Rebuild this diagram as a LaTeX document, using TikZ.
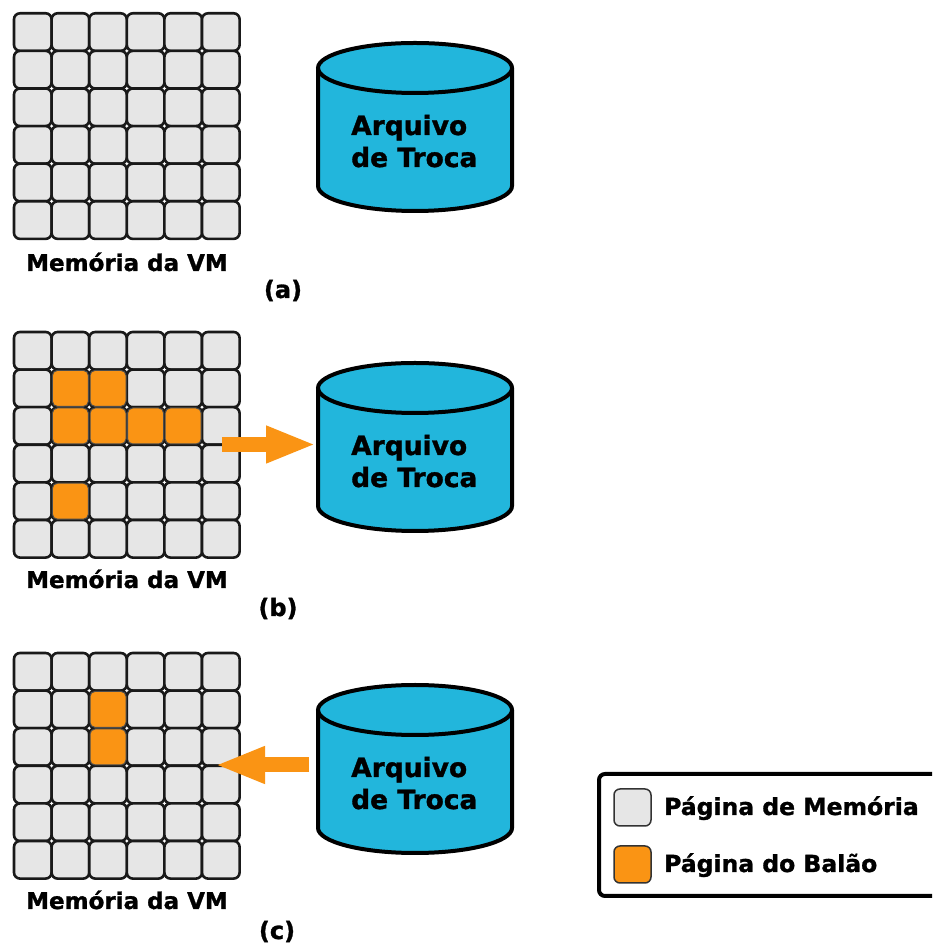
\documentclass[tikz,border=0pt]{standalone}
\usepackage{fontspec}
\setmainfont{DejaVu Sans}[BoldFeatures={FakeBold=1.2}]
\usetikzlibrary{arrows.meta}
\definecolor{cellgrey}{RGB}{230,230,230}
\definecolor{balloonorange}{RGB}{250,148,20}
\definecolor{diskcyan}{RGB}{34,182,220}
\tikzset{
 cellg/.style={rectangle, draw=black!90, fill=cellgrey, line width=2.6pt, rounded corners=6pt, minimum size=37.6pt, inner sep=0pt, outer sep=0pt},
 cello/.style={rectangle, draw=black!70, fill=balloonorange, line width=1pt, rounded corners=5pt, minimum size=36pt, inner sep=0pt},
 memlabel/.style={font=\bfseries\fontsize{23}{27}\selectfont, anchor=base, inner sep=0pt},
 caplabel/.style={font=\bfseries\fontsize{24}{28}\selectfont, anchor=base, inner sep=0pt},
 disklabel/.style={font=\bfseries\fontsize{26.5}{32}\selectfont, anchor=base west, inner sep=0pt},
 diskline/.style={line width=4pt, draw=black},
 swaparrow/.style={draw=balloonorange, line width=15pt, -{Triangle[length=50pt,width=34pt]}},
 legendbox/.style={draw=black, line width=4pt, rounded corners=6pt, fill=white},
 swatch/.style={rectangle, draw=black!80, line width=1.5pt, rounded corners=6pt, minimum size=37pt, inner sep=0pt},
 legendtext/.style={font=\bfseries\fontsize{23.5}{28}\selectfont, anchor=base west, inner sep=0pt},
}
\newcommand{\memgrid}[2]{%
 \foreach \r in {0,...,5} {\foreach \c in {0,...,5} {%
   \node[cellg] (#1-\r-\c) at ({14+37.6*\c+18.8},{#2-37.6*\r-18.8}) {};}}}
\newcommand{\drawdisk}[2]{%
 \fill[diskcyan] (318,#1) -- (318,#2) arc[start angle=180,end angle=360,x radius=97pt,y radius=25pt] -- (512,#1) -- cycle;
 \fill[diskcyan] (415,#1) ellipse[x radius=97pt, y radius=25pt];
 \draw[diskline] (318,#1) -- (318,#2) arc[start angle=180,end angle=360,x radius=97pt,y radius=25pt] -- (512,#1);
 \draw[diskline] (415,#1) ellipse[x radius=97pt, y radius=25pt];}
\begin{document}
\begin{tikzpicture}[x=1pt,y=1pt]
\useasboundingbox (0,0) rectangle (932,945);
\clip (0,0) rectangle (932,945);
\fill[white] (0,0) rectangle (932,945);

% (a)
\memgrid{ga}{931.7}
\node[memlabel] (memA) at (127,674) {Memória da VM};
\node[caplabel] (capA) at (283,647) {(a)};
\drawdisk{877}{759}
\node[disklabel] (diskA1) at (351,810) {Arquivo};
\node[disklabel] (diskA2) at (351,778) {de Troca};

% (b)
\memgrid{gb}{613}
\node[cello] (gb-o1) at (gb-1-1) {};
\node[cello] (gb-o2) at (gb-1-2) {};
\node[cello] (gb-o3) at (gb-2-1) {};
\node[cello] (gb-o4) at (gb-2-2) {};
\node[cello] (gb-o5) at (gb-2-3) {};
\node[cello] (gb-o6) at (gb-2-4) {};
\node[cello] (gb-o7) at (gb-4-1) {};
\node[memlabel] (memB) at (127,357) {Memória da VM};
\node[caplabel] (capB) at (278,329) {(b)};
\drawdisk{557}{439}
\node[disklabel] (diskB1) at (351,490) {Arquivo};
\node[disklabel] (diskB2) at (351,458) {de Troca};
\coordinate (outB) at (222,500.5);
\coordinate (diskBw) at (316,500.5);
\draw[swaparrow] (outB) -- (diskBw);

% (c)
\memgrid{gc}{292}
\node[cello] (gc-o1) at (gc-1-2) {};
\node[cello] (gc-o2) at (gc-2-2) {};
\node[memlabel] (memC) at (127,36) {Memória da VM};
\node[caplabel] (capC) at (277,6) {(c)};
\drawdisk{235}{117}
\node[disklabel] (diskC1) at (351,168) {Arquivo};
\node[disklabel] (diskC2) at (351,136) {de Troca};
\coordinate (diskCw) at (309,180);
\coordinate (inC) at (215,180);
\draw[swaparrow] (diskCw) -- (inC);

% legend
\draw[legendbox] (599,171) rectangle (950,49);
\node[swatch, fill=cellgrey] (swG) at (632.5,137.5) {};
\node[swatch, fill=balloonorange] (swO) at (632.5,80.5) {};
\node[legendtext] (legG) at (664,130) {Página de Memória};
\node[legendtext] (legO) at (664,73) {Página do Balão};
\end{tikzpicture}
\end{document}
